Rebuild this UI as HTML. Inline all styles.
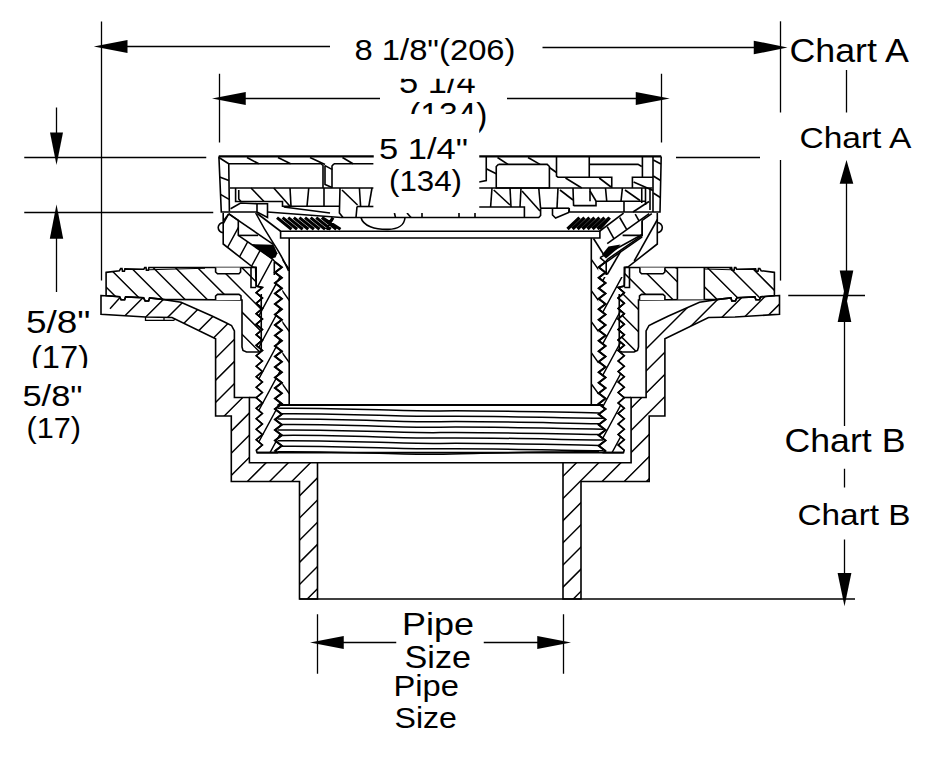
<!DOCTYPE html>
<html><head><meta charset="utf-8"><title>Floor drain section</title>
<style>
html,body{margin:0;padding:0;background:#fff;}
svg{display:block}
.o{fill:none;stroke:#000;stroke-width:1.6;stroke-linejoin:miter;stroke-linecap:butt}
.h{fill:none;stroke:#000;stroke-width:1.45}
.d{fill:none;stroke:#000;stroke-width:1.3}
text{font-family:"Liberation Sans",sans-serif;fill:#000}
</style></head><body>
<svg width="934" height="766" viewBox="0 0 934 766">
<rect width="934" height="766" fill="#fff"/>
<defs>
<clipPath id="cBody"><path d="M101.00,295.50 L119.60,296.80 L121.10,299.80 L124.60,299.80 L125.60,296.90 L143.60,297.80 L145.20,301.00 L148.60,301.00 L149.60,297.90 L162.50,299.40 L181.00,302.20 L212.00,316.00 L226.00,322.80 L231.50,325.50 L234.40,331.00 L234.40,397.50 L249.40,397.50 L249.40,462.80 L317.50,462.80 L317.50,599.00 L299.50,599.00 L299.50,481.50 L231.30,481.50 L231.30,416.00 L215.60,416.00 L215.60,338.75 L172.00,317.50 L145.50,317.00 L101.00,314.30 Z M779.50,295.50 L760.90,296.80 L759.40,299.80 L755.90,299.80 L754.90,296.90 L736.90,297.80 L735.30,301.00 L731.90,301.00 L730.90,297.90 L718.00,299.40 L699.50,302.20 L668.50,316.00 L654.50,322.80 L649.00,325.50 L646.10,331.00 L646.10,397.50 L631.10,397.50 L631.10,462.80 L563.00,462.80 L563.00,599.00 L581.00,599.00 L581.00,481.50 L649.20,481.50 L649.20,416.00 L664.90,416.00 L664.90,338.75 L708.50,317.50 L735.00,317.00 L779.50,314.30 Z"/></clipPath>
<clipPath id="cCollarL"><path d="M106.10,272.40 L119.40,270.70 L120.70,268.60 L122.00,268.60 L122.50,271.20 L124.40,271.20 L124.90,268.90 L143.80,269.30 L144.70,267.60 L146.00,267.60 L146.40,270.20 L148.40,270.20 L148.90,267.50 L255.60,267.50 L256.20,286.00 L262.30,287.50 L256.30,292.75 L262.30,298.00 L256.30,303.25 L262.30,308.50 L256.30,313.75 L262.30,319.00 L256.30,324.25 L262.30,329.50 L256.30,334.75 L262.30,340.00 L256.30,345.25 L262.30,350.50 L258.50,352.00 L246.50,352.00 L243.00,350.50 L242.00,347.00 L242.00,300.00 L162.50,299.40 L149.60,297.90 L148.60,301.00 L145.20,301.00 L143.60,297.80 L125.60,296.90 L124.60,299.80 L121.10,299.80 L119.60,296.80 L106.10,295.60 Z"/></clipPath>
<clipPath id="cCollarR"><path d="M774.40,272.40 L761.10,270.70 L759.80,268.60 L758.50,268.60 L758.00,271.20 L756.10,271.20 L755.60,268.90 L736.70,269.30 L735.80,267.60 L734.50,267.60 L734.10,270.20 L732.10,270.20 L731.60,267.50 L624.90,267.50 L624.30,286.00 L618.20,287.50 L624.20,292.75 L618.20,298.00 L624.20,303.25 L618.20,308.50 L624.20,313.75 L618.20,319.00 L624.20,324.25 L618.20,329.50 L624.20,334.75 L618.20,340.00 L624.20,345.25 L618.20,350.50 L622.00,352.00 L634.00,352.00 L637.50,350.50 L638.50,347.00 L638.50,300.00 L718.00,299.40 L730.90,297.90 L731.90,301.00 L735.30,301.00 L736.90,297.80 L754.90,296.90 L755.90,299.80 L759.40,299.80 L760.90,296.80 L774.40,295.60 Z"/></clipPath>
<clipPath id="cHeadL"><path d="M223.20,213.00 L223.20,244.00 L252.30,266.80 L256.20,267.50 L256.20,286.00 L262.30,287.50 L256.30,292.75 L262.30,298.00 L256.30,303.25 L262.30,308.50 L256.30,313.75 L262.30,319.00 L256.30,324.25 L262.30,329.50 L256.30,334.75 L262.30,340.00 L256.30,345.25 L262.30,350.50 L256.30,355.75 L262.30,361.00 L256.30,366.25 L262.30,371.50 L256.30,376.75 L262.30,382.00 L256.30,387.25 L262.30,392.50 L256.30,397.75 L262.30,403.00 L256.30,408.25 L262.30,413.50 L256.30,418.75 L262.30,424.00 L256.30,429.25 L262.30,434.50 L256.30,439.75 L262.30,445.00 L256.30,450.25 L257.00,452.60 L278.00,452.60 L275.00,451.00 L281.80,445.75 L275.00,440.50 L281.80,435.25 L275.00,430.00 L281.80,424.75 L275.00,419.50 L281.80,414.25 L275.00,409.00 L281.80,403.75 L275.00,398.50 L281.80,393.25 L275.00,388.00 L281.80,382.75 L275.00,377.50 L281.80,372.25 L275.00,367.00 L281.80,361.75 L275.00,356.50 L281.80,351.25 L275.00,346.00 L281.80,340.75 L275.00,335.50 L281.80,330.25 L275.00,325.00 L281.80,319.75 L275.00,314.50 L281.80,309.25 L275.00,304.00 L281.80,298.75 L275.00,293.50 L281.80,288.25 L275.00,283.00 L281.80,277.75 L275.00,272.50 L281.80,267.25 L275.00,262.00 L272.60,259.00 L238.30,235.40 L238.30,220.40 L228.70,213.70 Z"/></clipPath>
<clipPath id="cHeadR"><path d="M590.00,277.00 L640.00,277.00 L640.00,460.00 L590.00,460.00 Z"/></clipPath>
<clipPath id="cHeadR2"><path d="M657.30,213.00 L657.30,244.00 L628.20,266.80 L624.30,267.50 L624.30,286.00 L618.20,287.50 L624.20,292.75 L618.20,298.00 L624.20,303.25 L618.20,308.50 L624.20,313.75 L618.20,319.00 L624.20,324.25 L618.20,329.50 L624.20,334.75 L618.20,340.00 L624.20,345.25 L618.20,350.50 L624.20,355.75 L618.20,361.00 L624.20,366.25 L618.20,371.50 L624.20,376.75 L618.20,382.00 L624.20,387.25 L618.20,392.50 L624.20,397.75 L618.20,403.00 L624.20,408.25 L618.20,413.50 L624.20,418.75 L618.20,424.00 L624.20,429.25 L618.20,434.50 L624.20,439.75 L618.20,445.00 L624.20,450.25 L623.50,452.60 L602.50,452.60 L605.50,451.00 L598.70,445.75 L605.50,440.50 L598.70,435.25 L605.50,430.00 L598.70,424.75 L605.50,419.50 L598.70,414.25 L605.50,409.00 L598.70,403.75 L605.50,398.50 L598.70,393.25 L605.50,388.00 L598.70,382.75 L605.50,377.50 L598.70,372.25 L605.50,367.00 L598.70,361.75 L605.50,356.50 L598.70,351.25 L605.50,346.00 L598.70,340.75 L605.50,335.50 L598.70,330.25 L605.50,325.00 L598.70,319.75 L605.50,314.50 L598.70,309.25 L605.50,304.00 L598.70,298.75 L605.50,293.50 L598.70,288.25 L605.50,283.00 L598.70,277.75 L605.50,272.50 L598.70,267.25 L605.50,262.00 L607.90,259.00 L642.20,235.40 L642.20,220.40 L651.80,213.70 Z"/></clipPath>
<clipPath id="cSleeveL"><path d="M282.30,252.00 L289.20,238.00 L289.20,405.00 L282.30,405.00 Z"/></clipPath>
<clipPath id="cSleeveR"><path d="M598.20,252.00 L591.30,238.00 L591.30,405.00 L598.20,405.00 Z"/></clipPath>
</defs>
<g clip-path="url(#cBody)"><path d="M290.67,150 L-179.33,620 M312.84,150 L-157.16,620 M335.01,150 L-134.99,620 M357.18,150 L-112.82,620 M379.35,150 L-90.65,620 M401.52,150 L-68.48,620 M423.69,150 L-46.31,620 M445.86,150 L-24.14,620 M468.03,150 L-1.97,620 M490.20,150 L20.20,620 M512.37,150 L42.37,620 M534.54,150 L64.54,620 M556.71,150 L86.71,620 M578.88,150 L108.88,620 M601.05,150 L131.05,620 M623.22,150 L153.22,620 M645.39,150 L175.39,620 M667.56,150 L197.56,620 M689.73,150 L219.73,620 M711.90,150 L241.90,620 M734.07,150 L264.07,620 M756.24,150 L286.24,620 M778.41,150 L308.41,620 M800.58,150 L330.58,620 M822.75,150 L352.75,620 M844.92,150 L374.92,620 M867.09,150 L397.09,620 M889.26,150 L419.26,620 M911.43,150 L441.43,620 M933.60,150 L463.60,620 M955.77,150 L485.77,620 M977.94,150 L507.94,620 M1000.11,150 L530.11,620 M1022.28,150 L552.28,620 M1044.45,150 L574.45,620 M1066.62,150 L596.62,620 M1088.79,150 L618.79,620 M1110.96,150 L640.96,620 M1133.13,150 L663.13,620 M1155.30,150 L685.30,620" class="h"/></g>
<path d="M110,308.8 L119.6,298" class="h"/>
<g clip-path="url(#cCollarL)"><path d="M-141.80,150 L328.20,620 M-119.63,150 L350.37,620 M-97.46,150 L372.54,620 M-75.29,150 L394.71,620 M-53.12,150 L416.88,620 M-30.95,150 L439.05,620 M-8.78,150 L461.22,620 M13.39,150 L483.39,620 M35.56,150 L505.56,620 M57.73,150 L527.73,620 M79.90,150 L549.90,620 M102.07,150 L572.07,620 M124.24,150 L594.24,620 M146.41,150 L616.41,620 M168.58,150 L638.58,620 M190.75,150 L660.75,620" class="h"/></g>
<g clip-path="url(#cCollarR)"><path d="M390.28,150 L860.28,620 M412.45,150 L882.45,620 M434.62,150 L904.62,620 M456.79,150 L926.79,620 M478.96,150 L948.96,620 M501.13,150 L971.13,620 M523.30,150 L993.30,620 M545.47,150 L1015.47,620 M567.64,150 L1037.64,620 M589.81,150 L1059.81,620 M611.98,150 L1081.98,620 M634.15,150 L1104.15,620 M656.32,150 L1126.32,620 M678.49,150 L1148.49,620 M700.66,150 L1170.66,620" class="h"/></g>
<g clip-path="url(#cHeadL)"><path d="M212.05,150 L-43.16,620 M229.15,150 L-26.06,620 M246.25,150 L-8.96,620 M263.35,150 L8.14,620 M280.45,150 L25.24,620 M297.55,150 L42.34,620 M314.65,150 L59.44,620 M331.75,150 L76.54,620 M348.85,150 L93.64,620 M365.95,150 L110.74,620 M383.05,150 L127.84,620 M400.15,150 L144.94,620 M417.25,150 L162.04,620 M434.35,150 L179.14,620 M451.45,150 L196.24,620 M468.55,150 L213.34,620 M485.65,150 L230.44,620 M502.75,150 L247.54,620 M519.85,150 L264.64,620 M536.95,150 L281.74,620 M554.05,150 L298.84,620" class="h"/></g>
<g clip-path="url(#cHeadR2)"><g clip-path="url(#cHeadR)"><path d="M554.05,150 L298.84,620 M571.15,150 L315.94,620 M588.25,150 L333.04,620 M605.35,150 L350.14,620 M622.45,150 L367.24,620 M639.55,150 L384.34,620 M656.65,150 L401.44,620 M673.75,150 L418.54,620 M690.85,150 L435.64,620 M707.95,150 L452.74,620 M725.05,150 L469.84,620 M742.15,150 L486.94,620 M759.25,150 L504.04,620 M776.35,150 L521.14,620 M793.45,150 L538.24,620 M810.55,150 L555.34,620 M827.65,150 L572.44,620 M844.75,150 L589.54,620 M861.85,150 L606.64,620 M878.95,150 L623.74,620 M896.05,150 L640.84,620 M913.15,150 L657.94,620 M930.25,150 L675.04,620" class="h"/></g></g>
<g clip-path="url(#cSleeveL)"><path d="M-87.80,150 L250.60,620 M-65.40,150 L273.00,620 M-43.00,150 L295.40,620 M-20.60,150 L317.80,620 M1.80,150 L340.20,620 M24.20,150 L362.60,620 M46.60,150 L385.00,620 M69.00,150 L407.40,620 M91.40,150 L429.80,620 M113.80,150 L452.20,620 M136.20,150 L474.60,620 M158.60,150 L497.00,620 M181.00,150 L519.40,620 M203.40,150 L541.80,620 M225.80,150 L564.20,620 M248.20,150 L586.60,620 M270.60,150 L609.00,620" class="h"/></g>
<g clip-path="url(#cSleeveR)"><path d="M333.30,150 L671.70,620 M355.70,150 L694.10,620 M378.10,150 L716.50,620 M400.50,150 L738.90,620 M422.90,150 L761.30,620 M445.30,150 L783.70,620 M467.70,150 L806.10,620 M490.10,150 L828.50,620 M512.50,150 L850.90,620 M534.90,150 L873.30,620 M557.30,150 L895.70,620 M579.70,150 L918.10,620 M602.10,150 L940.50,620" class="h"/></g>
<path d="M101.00,295.50 L119.60,296.80 L121.10,299.80 L124.60,299.80 L125.60,296.90 L143.60,297.80 L145.20,301.00 L148.60,301.00 L149.60,297.90 L162.50,299.40 L181.00,302.20 L212.00,316.00 L226.00,322.80 L231.50,325.50 L234.40,331.00 L234.40,397.50 L249.40,397.50 L249.40,462.80 L317.50,462.80 L317.50,599.00 L299.50,599.00 L299.50,481.50 L231.30,481.50 L231.30,416.00 L215.60,416.00 L215.60,338.75 L172.00,317.50 L145.50,317.00 L101.00,314.30 Z" class="o"/>
<path d="M779.50,295.50 L760.90,296.80 L759.40,299.80 L755.90,299.80 L754.90,296.90 L736.90,297.80 L735.30,301.00 L731.90,301.00 L730.90,297.90 L718.00,299.40 L699.50,302.20 L668.50,316.00 L654.50,322.80 L649.00,325.50 L646.10,331.00 L646.10,397.50 L631.10,397.50 L631.10,462.80 L563.00,462.80 L563.00,599.00 L581.00,599.00 L581.00,481.50 L649.20,481.50 L649.20,416.00 L664.90,416.00 L664.90,338.75 L708.50,317.50 L735.00,317.00 L779.50,314.30 Z" class="o"/>
<path d="M106.10,272.40 L119.40,270.70 L120.70,268.60 L122.00,268.60 L122.50,271.20 L124.40,271.20 L124.90,268.90 L143.80,269.30 L144.70,267.60 L146.00,267.60 L146.40,270.20 L148.40,270.20 L148.90,267.50 L255.60,267.50 L256.20,286.00 L262.30,287.50 L256.30,292.75 L262.30,298.00 L256.30,303.25 L262.30,308.50 L256.30,313.75 L262.30,319.00 L256.30,324.25 L262.30,329.50 L256.30,334.75 L262.30,340.00 L256.30,345.25 L262.30,350.50 L258.50,352.00 L246.50,352.00 L243.00,350.50 L242.00,347.00 L242.00,300.00 L162.50,299.40 L149.60,297.90 L148.60,301.00 L145.20,301.00 L143.60,297.80 L125.60,296.90 L124.60,299.80 L121.10,299.80 L119.60,296.80 L106.10,295.60 Z" class="o"/>
<path d="M774.40,272.40 L761.10,270.70 L759.80,268.60 L758.50,268.60 L758.00,271.20 L756.10,271.20 L755.60,268.90 L736.70,269.30 L735.80,267.60 L734.50,267.60 L734.10,270.20 L732.10,270.20 L731.60,267.50 L624.90,267.50 L624.30,286.00 L618.20,287.50 L624.20,292.75 L618.20,298.00 L624.20,303.25 L618.20,308.50 L624.20,313.75 L618.20,319.00 L624.20,324.25 L618.20,329.50 L624.20,334.75 L618.20,340.00 L624.20,345.25 L618.20,350.50 L622.00,352.00 L634.00,352.00 L637.50,350.50 L638.50,347.00 L638.50,300.00 L718.00,299.40 L730.90,297.90 L731.90,301.00 L735.30,301.00 L736.90,297.80 L754.90,296.90 L755.90,299.80 L759.40,299.80 L760.90,296.80 L774.40,295.60 Z" class="o"/>
<path d="M145.5,317 L145.5,320.4 L173.4,320.4 L175.5,319.2 M164,317.6 L164,320.4" class="o" style="stroke-width:1.3"/>
<path d="M215.60,267.50 L215.60,272.00 L217.50,273.75 L239.00,273.75 L240.60,272.00 L240.60,267.50" class="o" style="fill:#fff"/>
<path d="M664.90,267.50 L664.90,272.00 L663.00,273.75 L641.50,273.75 L639.90,272.00 L639.90,267.50" class="o" style="fill:#fff"/>
<path d="M215.60,300.00 L215.60,296.00 L217.50,294.40 L239.00,294.40 L241.00,296.00 L241.00,300.00" class="o" style="fill:#fff"/>
<path d="M664.90,300.00 L664.90,296.00 L663.00,294.40 L641.50,294.40 L639.50,296.00 L639.50,300.00" class="o" style="fill:#fff"/>
<path d="M148.9,269.8 L205,268.2" class="o" style="stroke-width:1.1"/>
<path d="M731.6,269.8 L675.5,268.2" class="o" style="stroke-width:1.1"/>
<path d="M251.00,267.50 L251.00,287.50 L256.20,287.50" class="o"/>
<path d="M629.50,267.50 L629.50,287.50 L624.30,287.50" class="o"/>
<path d="M261.25,294 L261.25,351" class="o"/>
<path d="M619.25,294 L619.25,351" class="o"/>
<path d="M249.4,397.5 L257.5,397.5" class="o"/>
<path d="M631.1,397.5 L623.0,397.5" class="o"/>
<rect x="677.4" y="268.2" width="26.9" height="31.2" fill="#fff"/>
<path d="M677.4,267.5 L677.4,299.6 M704.3,267.5 L704.3,299.6" class="o"/>
<path d="M223.20,213.00 L223.20,244.00 L252.30,266.80 L256.20,267.50 L256.20,286.00 L262.30,287.50 L256.30,292.75 L262.30,298.00 L256.30,303.25 L262.30,308.50 L256.30,313.75 L262.30,319.00 L256.30,324.25 L262.30,329.50 L256.30,334.75 L262.30,340.00 L256.30,345.25 L262.30,350.50 L256.30,355.75 L262.30,361.00 L256.30,366.25 L262.30,371.50 L256.30,376.75 L262.30,382.00 L256.30,387.25 L262.30,392.50 L256.30,397.75 L262.30,403.00 L256.30,408.25 L262.30,413.50 L256.30,418.75 L262.30,424.00 L256.30,429.25 L262.30,434.50 L256.30,439.75 L262.30,445.00 L256.30,450.25 L257.00,452.60 L278.00,452.60 L275.00,451.00 L281.80,445.75 L275.00,440.50 L281.80,435.25 L275.00,430.00 L281.80,424.75 L275.00,419.50 L281.80,414.25 L275.00,409.00 L281.80,403.75 L275.00,398.50 L281.80,393.25 L275.00,388.00 L281.80,382.75 L275.00,377.50 L281.80,372.25 L275.00,367.00 L281.80,361.75 L275.00,356.50 L281.80,351.25 L275.00,346.00 L281.80,340.75 L275.00,335.50 L281.80,330.25 L275.00,325.00 L281.80,319.75 L275.00,314.50 L281.80,309.25 L275.00,304.00 L281.80,298.75 L275.00,293.50 L281.80,288.25 L275.00,283.00 L281.80,277.75 L275.00,272.50 L281.80,267.25 L275.00,262.00 L272.60,259.00 L238.30,235.40 L238.30,220.40 L228.70,213.70" class="o"/>
<path d="M657.30,213.00 L657.30,244.00 L628.20,266.80 L624.30,267.50 L624.30,286.00 L618.20,287.50 L624.20,292.75 L618.20,298.00 L624.20,303.25 L618.20,308.50 L624.20,313.75 L618.20,319.00 L624.20,324.25 L618.20,329.50 L624.20,334.75 L618.20,340.00 L624.20,345.25 L618.20,350.50 L624.20,355.75 L618.20,361.00 L624.20,366.25 L618.20,371.50 L624.20,376.75 L618.20,382.00 L624.20,387.25 L618.20,392.50 L624.20,397.75 L618.20,403.00 L624.20,408.25 L618.20,413.50 L624.20,418.75 L618.20,424.00 L624.20,429.25 L618.20,434.50 L624.20,439.75 L618.20,445.00 L624.20,450.25 L623.50,452.60 L602.50,452.60 L605.50,451.00 L598.70,445.75 L605.50,440.50 L598.70,435.25 L605.50,430.00 L598.70,424.75 L605.50,419.50 L598.70,414.25 L605.50,409.00 L598.70,403.75 L605.50,398.50 L598.70,393.25 L605.50,388.00 L598.70,382.75 L605.50,377.50 L598.70,372.25 L605.50,367.00 L598.70,361.75 L605.50,356.50 L598.70,351.25 L605.50,346.00 L598.70,340.75 L605.50,335.50 L598.70,330.25 L605.50,325.00 L598.70,319.75 L605.50,314.50 L598.70,309.25 L605.50,304.00 L598.70,298.75 L605.50,293.50 L598.70,288.25 L605.50,283.00 L598.70,277.75 L605.50,272.50 L598.70,267.25 L605.50,262.00 L607.90,259.00 L642.20,235.40 L642.20,220.40 L651.80,213.70" class="o"/>
<path d="M275.00,262.00 L281.80,267.25 L275.00,272.50 L281.80,277.75 L275.00,283.00 L281.80,288.25 L275.00,293.50 L281.80,298.75 L275.00,304.00 L281.80,309.25 L275.00,314.50 L281.80,319.75 L275.00,325.00 L281.80,330.25 L275.00,335.50 L281.80,340.75 L275.00,346.00 L281.80,351.25 L275.00,356.50 L281.80,361.75 L275.00,367.00 L281.80,372.25 L275.00,377.50 L281.80,382.75 L275.00,388.00 L281.80,393.25 L275.00,398.50 L281.80,403.75 L275.00,409.00 L281.80,414.25 L275.00,419.50 L281.80,424.75 L275.00,430.00 L281.80,435.25 L275.00,440.50 L281.80,445.75 L275.00,451.00" class="o" style="stroke-width:2"/>
<path d="M605.50,262.00 L598.70,267.25 L605.50,272.50 L598.70,277.75 L605.50,283.00 L598.70,288.25 L605.50,293.50 L598.70,298.75 L605.50,304.00 L598.70,309.25 L605.50,314.50 L598.70,319.75 L605.50,325.00 L598.70,330.25 L605.50,335.50 L598.70,340.75 L605.50,346.00 L598.70,351.25 L605.50,356.50 L598.70,361.75 L605.50,367.00 L598.70,372.25 L605.50,377.50 L598.70,382.75 L605.50,388.00 L598.70,393.25 L605.50,398.50 L598.70,403.75 L605.50,409.00 L598.70,414.25 L605.50,419.50 L598.70,424.75 L605.50,430.00 L598.70,435.25 L605.50,440.50 L598.70,445.75 L605.50,451.00" class="o" style="stroke-width:2"/>
<path d="M262.30,287.50 L256.30,292.75 L262.30,298.00 L256.30,303.25 L262.30,308.50 L256.30,313.75 L262.30,319.00 L256.30,324.25 L262.30,329.50 L256.30,334.75 L262.30,340.00 L256.30,345.25 L262.30,350.50 L256.30,355.75 L262.30,361.00 L256.30,366.25 L262.30,371.50 L256.30,376.75 L262.30,382.00 L256.30,387.25 L262.30,392.50 L256.30,397.75 L262.30,403.00 L256.30,408.25 L262.30,413.50 L256.30,418.75 L262.30,424.00 L256.30,429.25 L262.30,434.50 L256.30,439.75 L262.30,445.00 L256.30,450.25" class="o" style="stroke-width:1.6"/>
<path d="M618.20,287.50 L624.20,292.75 L618.20,298.00 L624.20,303.25 L618.20,308.50 L624.20,313.75 L618.20,319.00 L624.20,324.25 L618.20,329.50 L624.20,334.75 L618.20,340.00 L624.20,345.25 L618.20,350.50 L624.20,355.75 L618.20,361.00 L624.20,366.25 L618.20,371.50 L624.20,376.75 L618.20,382.00 L624.20,387.25 L618.20,392.50 L624.20,397.75 L618.20,403.00 L624.20,408.25 L618.20,413.50 L624.20,418.75 L618.20,424.00 L624.20,429.25 L618.20,434.50 L624.20,439.75 L618.20,445.00 L624.20,450.25" class="o" style="stroke-width:1.6"/>
<path d="M223.2,222.6 A5,5 0 1 0 223.2,232.6" class="o"/>
<path d="M657.3,222.6 A5,5 0 1 1 657.3,232.6" class="o"/>
<path d="M289.2,238 L289.2,405 M591.3,238 L591.3,405" class="o"/>
<path d="M277.5,405 L603.0,405" class="o" style="stroke-width:1.8"/>
<path d="M257,452.6 L623.5,452.6" class="o"/>
<path d="M277.5,408.3 C350,407.7 400,411.5 440,410.9 S540,411.9 599.0,412.9 M281.5,413.7 C350,413.1 400,416.9 440,416.3 S540,417.3 603.0,418.3 M277.5,419.1 C350,418.5 400,422.3 440,421.7 S540,422.7 599.0,423.7 M281.5,424.6 C350,424.0 400,427.8 440,427.2 S540,428.2 603.0,429.2 M277.5,430.0 C350,429.4 400,433.2 440,432.6 S540,433.6 599.0,434.6 M281.5,435.4 C350,434.8 400,438.6 440,438.0 S540,439.0 603.0,440.0 M277.5,440.8 C350,440.2 400,444.0 440,443.4 S540,444.4 599.0,445.4 M281.5,446.2 C350,445.6 400,449.4 440,448.8 S540,449.8 603.0,450.8 M277.5,451.7 C350,451.1 400,454.9 440,454.3 S540,451.0 599.0,452.0" class="o" style="stroke-width:1.5"/>
<path d="M317.5,462.8 L563.0,462.8" class="o"/>
<path d="M280.6,231.25 L599.9,231.25 L599.9,238 L280.6,238 Z" class="o" style="fill:#fff"/>
<path d="M257.20,213.50 L280.60,231.25" class="o"/>
<path d="M228.70,213.90 L273.60,244.60" class="o"/>
<path d="M228.70,213.90 L223.40,221.00" class="o"/>
<path d="M238.30,235.40 L258.10,235.40" class="o"/>
<path d="M274.30,262.00 L274.30,275.00" class="o"/>
<path d="M255.7,213 Q264,229 273.6,243.6 T288.6,271" class="o"/>
<path d="M599.50,231.25 L623.60,213.20" class="o"/>
<path d="M607.20,243.60 L649.20,213.70" class="o"/>
<path d="M600.00,257.60 L642.20,234.50" class="o"/>
<path d="M642.20,221.00 L642.20,235.40 L622.60,235.40" class="o"/>
<path d="M600.00,257.60 L605.75,262.60 L621.00,251.60 L642.20,236.80" class="o"/>
<path d="M593.50,238.50 L603.30,254.00" class="o"/>
<path d="M607.20,226.70 L614.00,238.80" class="o"/>
<path d="M619.70,217.50 L626.50,229.10" class="o"/>
<path d="M635.20,214.20 L639.00,220.90" class="o"/>
<path d="M634.20,261.00 L657.40,219.50" class="o"/>
<path d="M607.20,274.50 L620.70,251.30" class="o"/>
<path d="M606.20,262.00 L606.20,275.00" class="o"/>
<path d="M251.4,244.1 L273.6,244.8 L277.4,253.3 L275.5,257.6 L270.7,258.6 Z" fill="#000"/>
<path d="M602,254.5 L608.5,246.5 L620.5,244.5 L616.5,249.5 L606,258.5 Z" fill="#000"/>
<path d="M277.0,217.6 L291.5,229.2 M282.6,217.6 L297.1,229.2 M288.2,217.6 L302.7,229.2 M293.8,217.6 L308.3,229.2 M299.4,217.6 L313.9,229.2 M305.0,217.6 L319.5,229.2 M310.6,217.6 L325.1,229.2 M316.2,217.6 L330.7,229.2 M321.8,217.6 L336.3,229.2 M322,217.6 L340.5,229.2 M333,217.6 L326,229.2" stroke="#000" stroke-width="3.1" fill="none"/>
<path d="M567.5,229 L579.5,217.6 M572.5,229 L584.5,217.6 M577.5,229 L589.5,217.6 M582.5,229 L594.5,217.6 M587.5,229 L599.5,217.6 M592.5,229 L604.5,217.6 M597.5,229 L609.5,217.6" stroke="#000" stroke-width="3.3" fill="none"/>
<path d="M600,229 L610,218" stroke="#000" stroke-width="2.2" fill="none"/>
<path d="M218.75,156.4 L661.2,156.4" class="o" style="stroke-width:2.3"/>
<path d="M218.90,156.50 L221.30,212.00 L257.00,212.00" class="o"/>
<path d="M218.90,157.50 L228.75,163.75 L229.40,211.50" class="o"/>
<path d="M219.60,177.00 L228.90,180.60" class="o"/>
<path d="M220.50,194.40 L229.10,199.40" class="o"/>
<path d="M228.75,163.75 L321.00,163.75 L323.00,165.50 L323.00,188.00" class="o"/>
<path d="M247.00,157.50 L258.75,163.75" class="o"/>
<path d="M278.00,157.50 L290.60,163.75" class="o"/>
<path d="M310.00,157.50 L325.00,164.50" class="o"/>
<path d="M230.00,188.00 L373.50,188.00" class="o"/>
<path d="M325.00,165.60 L325.00,184.40 L332.00,187.50" class="o"/>
<path d="M325.00,165.60 L332.00,169.40 L332.00,188.00" class="o"/>
<path d="M334.00,163.75 L373.50,163.75" class="o"/>
<path d="M332.00,169.40 L332.00,166.00 L334.00,163.75" class="o"/>
<path d="M342.50,157.50 L353.00,163.75" class="o"/>
<path d="M235.60,188.00 L235.60,201.50 L282.50,201.50 L282.50,206.30 L339.40,206.30" class="o"/>
<path d="M238.75,190.00 L238.75,199.00 L241.00,201.50" class="o"/>
<path d="M251.00,188.00 L264.00,201.50" class="o"/>
<path d="M273.75,188.00 L290.00,206.30" class="o"/>
<path d="M290.00,188.00 L291.00,206.30" class="o"/>
<path d="M308.75,188.00 L307.00,206.30" class="o"/>
<path d="M324.00,188.00 L324.00,206.30" class="o"/>
<path d="M257.00,203.75 L267.50,203.75 L267.50,217.50 L257.00,212.00 L257.00,203.75" class="o"/>
<path d="M230.60,208.75 L240.60,203.00 L257.00,203.75" class="o"/>
<path d="M267.50,212.00 L341.00,217.50" class="o"/>
<path d="M283.75,207.00 L330.00,213.00" class="o"/>
<path d="M340.00,188.00 L339.40,213.00 L343.00,217.50" class="o"/>
<path d="M342.00,190.00 L357.50,205.00" class="o"/>
<path d="M359.40,188.00 L360.60,206.50" class="o"/>
<path d="M372.00,188.00 L368.75,206.50" class="o"/>
<path d="M357.00,206.50 L373.50,206.50" class="o"/>
<path d="M357.00,206.50 L356.00,217.50" class="o"/>
<path d="M341.00,217.50 L538.75,217.50 L540.60,215.50 L540.60,208.50" class="o"/>
<path d="M394.40,213.00 L395.50,217.50" class="o"/>
<path d="M407.00,213.00 L411.00,217.50" class="o"/>
<path d="M422.00,213.00 L422.00,217.50" class="o"/>
<path d="M475.00,213.00 L475.00,217.50" class="o"/>
<path d="M459.00,213.00 L459.00,217.50" class="o"/>
<path d="M661.20,156.50 L660.00,212.00 L569.25,212.00" class="o"/>
<path d="M486.25,157.00 L486.25,180.60 L479.00,182.00" class="o"/>
<path d="M498.50,164.40 L547.20,164.40 L549.40,166.50 L549.40,188.00 L496.25,188.00 L496.25,166.50 L498.50,164.40" class="o"/>
<path d="M497.50,157.50 L508.00,164.40" class="o"/>
<path d="M528.00,157.50 L540.00,164.40" class="o"/>
<path d="M486.25,168.75 L496.25,173.75" class="o"/>
<path d="M549.40,167.50 L556.50,172.50" class="o"/>
<path d="M479.00,188.00 L652.40,188.00" class="o"/>
<path d="M556.50,157.00 L556.50,176.00 L558.00,177.20 L611.75,177.20 L611.75,188.00" class="o"/>
<path d="M589.25,157.00 L589.25,177.20" class="o"/>
<path d="M589.25,164.40 L638.00,164.40 L641.75,166.50" class="o"/>
<path d="M642.40,157.00 L642.40,177.20" class="o"/>
<path d="M632.40,188.00 L632.40,177.20 L653.00,177.20" class="o"/>
<path d="M653.00,157.00 L653.00,212.00" class="o"/>
<path d="M565.50,178.00 L581.75,188.00" class="o"/>
<path d="M599.25,178.00 L611.00,187.00" class="o"/>
<path d="M633.60,182.00 L653.00,190.60" class="o"/>
<path d="M653.30,160.00 L660.90,164.00" class="o"/>
<path d="M653.30,176.00 L660.60,180.50" class="o"/>
<path d="M653.30,193.00 L660.30,197.50" class="o"/>
<path d="M492.00,188.00 L490.60,207.00" class="o"/>
<path d="M510.00,188.00 L511.00,207.00" class="o"/>
<path d="M521.00,188.00 L520.00,207.00" class="o"/>
<path d="M538.75,188.00 L540.60,208.50" class="o"/>
<path d="M558.00,188.00 L557.00,208.00" class="o"/>
<path d="M573.00,188.00 L573.60,206.00" class="o"/>
<path d="M590.00,188.00 L590.00,201.25" class="o"/>
<path d="M605.50,188.00 L606.75,201.25" class="o"/>
<path d="M622.40,188.00 L621.00,201.25" class="o"/>
<path d="M641.75,188.00 L641.75,203.00" class="o"/>
<path d="M645.50,188.00 L645.50,205.00" class="o"/>
<path d="M650.00,188.00 L650.00,210.00" class="o"/>
<path d="M493.75,190.00 L510.00,205.00" class="o"/>
<path d="M522.00,191.00 L540.00,211.00" class="o"/>
<path d="M560.00,190.00 L573.00,200.00" class="o"/>
<path d="M590.00,191.00 L596.00,201.00" class="o"/>
<path d="M625.00,190.00 L640.00,200.50" class="o"/>
<path d="M479.00,207.00 L524.40,207.00 L524.40,217.50" class="o"/>
<path d="M540.60,208.20 L569.25,208.20" class="o"/>
<path d="M573.60,205.60 L596.00,205.60 L596.00,201.25 L645.00,201.25" class="o"/>
<path d="M552.50,208.20 L552.50,215.00 L555.60,218.00 L568.75,212.50 L569.25,208.20" class="o"/>
<path d="M624.00,212.00 L624.00,201.25" class="o"/>
<path d="M633.00,212.00 L649.00,201.50" class="o"/>
<path d="M569.25,208.00 L569.25,212.00" class="o"/>
<path d="M361,217.5 C363,226 375,229.6 388,229.4 C398,229.2 404.5,225 405,217.5" class="o"/>
<path d="M101.5,21.5 L101.5,280.6" class="d"/>
<path d="M780.5,21.3 L780.5,112.5" class="d"/>
<path d="M780.5,160 L780.5,280.6" class="d"/>
<path d="M219.5,73.75 L219.5,142.5" class="d"/>
<path d="M661.5,73.75 L661.5,142.5" class="d"/>
<path d="M127,46.5 L330,46.5" class="d"/>
<path d="M542.5,47.5 L755,47.5" class="d"/>
<path d="M93.75,46.5 L127.5,39.9 L127.5,53.1 Z" fill="#000"/>
<path d="M787.5,47.5 L753.75,40.7 L753.75,54.3 Z" fill="#000"/>
<path d="M245,98.5 L380,98.5" class="d"/>
<path d="M507,98.5 L636.5,98.5" class="d"/>
<path d="M212,98.5 L245.75,91.9 L245.75,105.1 Z" fill="#000"/>
<path d="M669.75,98.5 L635.75,91.9 L635.75,105.1 Z" fill="#000"/>
<path d="M24.25,157.5 L206.25,157.5" class="d"/>
<path d="M24.25,212.5 L213.25,212.5" class="d"/>
<path d="M56.5,107.5 L56.5,133" class="d"/>
<path d="M56.5,165 L50.0,132.5 L63,132.5 Z" fill="#000"/>
<path d="M56.5,204.5 L49.8,238.75 L63.2,238.75 Z" fill="#000"/>
<path d="M56.5,238 L56.5,292" class="d"/>
<path d="M676,157.5 L760,157.5" class="d"/>
<path d="M846.5,70 L846.5,112.5" class="d"/>
<path d="M846.5,183 L846.5,271" class="d"/>
<path d="M846.5,160 L839.7,183.75 L853.3,183.75 Z" fill="#000"/>
<path d="M846.5,303.75 L839.7,270.5 L853.3,270.5 Z" fill="#000"/>
<path d="M788.25,295.5 L865,295.5" class="d"/>
<path d="M844.5,288.75 L837.7,322 L851.3,322 Z" fill="#000"/>
<path d="M844.5,321 L844.5,426" class="d"/>
<path d="M844.5,468.75 L844.5,487.5" class="d"/>
<path d="M844.5,539.5 L844.5,574" class="d"/>
<path d="M844.5,606.25 L837.6,573 L851.4,573 Z" fill="#000"/>
<path d="M299.5,599 L855,599" class="d" style="stroke-width:1.5"/>
<path d="M317.5,614.25 L317.5,673.75" class="d"/>
<path d="M563.5,614.25 L563.5,673.75" class="d"/>
<path d="M310,642.5 L343.75,635.9 L343.75,649.1 Z" fill="#000"/>
<path d="M571,642.5 L537.25,635.9 L537.25,649.1 Z" fill="#000"/>
<path d="M343,642.5 L396.25,642.5" class="d"/>
<path d="M483.75,642.5 L538,642.5" class="d"/>
<clipPath id="t1"><rect x="380" y="78.8" width="140" height="60"/></clipPath>
<g clip-path="url(#t1)">
<text x="399" y="92.5" font-size="32" textLength="89.00" lengthAdjust="spacingAndGlyphs">5 1/4&quot;</text>
<text x="409" y="126" font-size="33" textLength="78.50" lengthAdjust="spacingAndGlyphs">(134)</text>
</g>
<clipPath id="t2"><rect x="0" y="300" width="100" height="68"/></clipPath>
<g clip-path="url(#t2)">
<text x="26" y="333" font-size="31.5" textLength="64.50" lengthAdjust="spacingAndGlyphs">5/8&quot;</text>
<text x="31" y="367.5" font-size="31.5" textLength="58.00" lengthAdjust="spacingAndGlyphs">(17)</text>
</g>
<clipPath id="t3"><rect x="390" y="600" width="100" height="69.5"/></clipPath>
<g clip-path="url(#t3)">
<text x="402" y="634.5" font-size="31.5" textLength="72.00" lengthAdjust="spacingAndGlyphs">Pipe</text>
<text x="404.5" y="668" font-size="31.5" textLength="66.50" lengthAdjust="spacingAndGlyphs">Size</text>
</g>
<text x="789.5" y="61.75" font-size="32.5" textLength="119.25" lengthAdjust="spacingAndGlyphs">Chart A</text>
<text x="784.5" y="451.75" font-size="32.5" textLength="121.00" lengthAdjust="spacingAndGlyphs">Chart B</text>
<rect x="373.75" y="114" width="105.5" height="99" fill="#fff"/>
<text x="354.5" y="60" font-size="29.7" textLength="161.00" lengthAdjust="spacingAndGlyphs">8 1/8&quot;(206)</text>
<text x="379" y="158.75" font-size="29.7" textLength="89.00" lengthAdjust="spacingAndGlyphs">5 1/4&quot;</text>
<text x="389" y="191" font-size="29.7" textLength="73.00" lengthAdjust="spacingAndGlyphs">(134)</text>
<text x="799.5" y="148.25" font-size="30" textLength="111.75" lengthAdjust="spacingAndGlyphs">Chart A</text>
<text x="797.5" y="524.5" font-size="30" textLength="113.00" lengthAdjust="spacingAndGlyphs">Chart B</text>
<text x="22.5" y="406.25" font-size="29.7" textLength="60.00" lengthAdjust="spacingAndGlyphs">5/8&quot;</text>
<text x="26.5" y="438.25" font-size="29.7" textLength="54.50" lengthAdjust="spacingAndGlyphs">(17)</text>
<text x="393.5" y="696.25" font-size="29.7" textLength="65.50" lengthAdjust="spacingAndGlyphs">Pipe</text>
<text x="394.5" y="728.25" font-size="29.7" textLength="62.50" lengthAdjust="spacingAndGlyphs">Size</text>
</svg>
</body></html>
